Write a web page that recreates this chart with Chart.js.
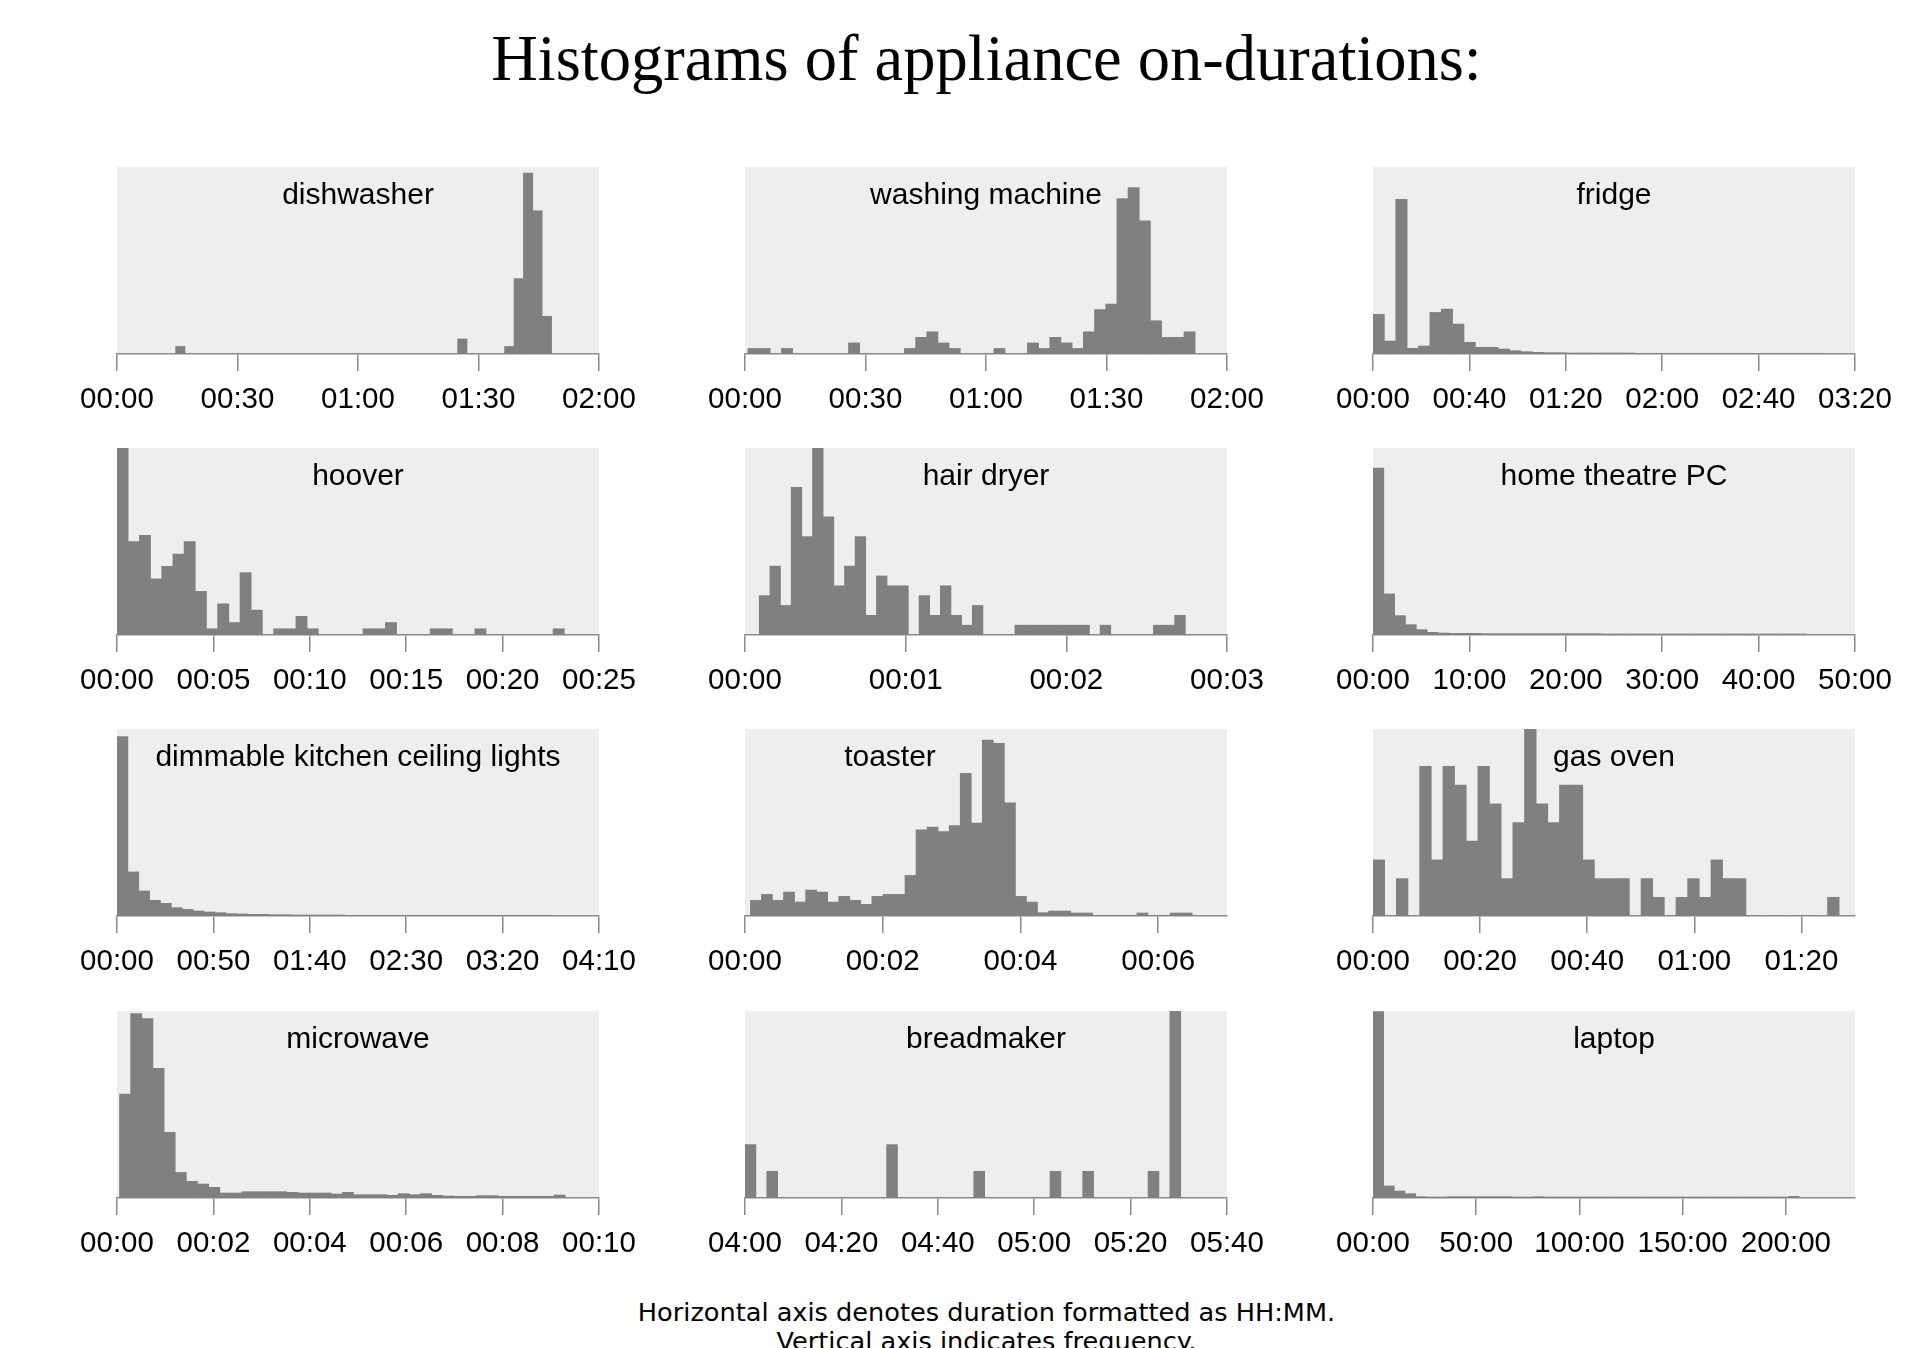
<!DOCTYPE html>
<html>
<head>
<meta charset="utf-8">
<script src="https://cdn.jsdelivr.net/npm/chart.js@4.4.1/dist/chart.umd.min.js"></script>
<style>
  html, body { margin:0; padding:0; background:#fff; }
  body { width:1909px; height:1348px; position:relative; overflow:hidden; }
  #title { position:absolute; left:0; top:27px; width:1973px; text-align:center;
           font-family:'Liberation Serif', serif; font-size:64.5px; line-height:1; color:#000; }
  .panel { position:absolute; }
  .ptitle { position:absolute; font-family:'Liberation Sans', Arial, sans-serif; font-size:30px;
            line-height:1; color:#000; white-space:nowrap; transform:translateX(-50%); }
  #footer { position:absolute; left:0; top:1298px; width:1973px; text-align:center;
            font-family:'DejaVu Sans', sans-serif; font-size:25.6px; line-height:29px; color:#000; }
</style>
</head>
<body>
<div id="title">Histograms of appliance on-durations:</div>
<div id="footer">Horizontal axis denotes duration formatted as HH:MM.<br>Vertical axis indicates frequency.</div>
<script>
/* ---------------- data: 40 bins per appliance, x in minutes ---------------- */
const panelNames = ["dishwasher","washing machine","fridge","hoover","hair dryer","home theatre PC",
                    "dimmable kitchen ceiling lights","toaster","gas oven","microwave","breadmaker","laptop"];

const dishwasherCounts = [1,0,0,0,0,0,0,0,0,0, 0,0,0,0,0,0,0,0,0,0, 0,0,0,0,0,0,0,0,0,0, 2,0,0,0,0,1,10,24,19,5];
const washingCounts    = [1,1,0,1,0,0,0,0,0,2, 0,0,0,0,1,3,4,2,1,0, 0,0,1,0,0,2,1,3,2,1, 4,8,9,28,30,24,6,3,3,4];
const fridgeCounts     = [119,39,465,17,24,125,135,90,35,20, 20,15,10,7,5,4,4,3,3,3, 3,3,3,2,2,2,2,2,2,2, 2,2,2,2,2,2,2,2,2,1];
const hooverCounts     = [30,15,16,9,11,13,15,7,1,5, 2,10,4,0,1,1,3,1,0,0, 0,0,1,1,2,0,0,0,1,1, 0,0,1,0,0,0,0,0,0,1];
const hairDryerCounts  = [4,7,3,15,10,19,12,5,7,10, 2,6,5,5,0,4,2,5,2,1, 3,0,0,0,1,1,1,1,1,1, 1,0,1,0,0,0,0,1,1,2];
const htpcCounts       = [500,123,58,31,16,8,6,5,5,5, 4,4,4,4,4,4,4,4,4,4, 4,3,3,3,3,3,3,3,3,3, 3,3,3,3,3,3,3,3,3,3];
const lightsCounts     = [537,132,75,47,38,25,20,15,12,10, 7,6,5,5,4,4,3,3,3,3, 3,2,2,2,2,2,2,2,2,2, 2,2,2,2,2,2,2,2,2,2];
const toasterCounts    = [47,65,47,72,42,78,72,42,59,47, 35,59,65,65,122,259,267,254,272,429, 279,529,519,340,59,42,10,15,15,9, 9,2,2,2,2,9,2,2,9,9];
const gasOvenCounts    = [3,0,2,0,8,3,8,7,4,8, 6,2,5,10,6,5,7,7,3,2, 2,2,0,2,1,0,1,2,1,3, 2,2,0,0,0,0,0,0,0,1];
const microwaveCounts  = [312,554,539,390,197,77,50,42,32,15, 15,19,19,19,19,17,15,15,15,12, 17,10,10,10,8,13,10,13,8,6, 5,5,7,7,5,5,5,5,5,9];
const breadmakerCounts = [2,0,1,0,0,0,0,0,0,0, 0,0,0,2,0,0,0,0,0,0, 0,1,0,0,0,0,0,0,1,0, 0,1,0,0,0,0,0,1,0,7];
const laptopCounts     = [558,36,21,13,4,3,3,4,4,4, 4,4,4,3,3,4,3,3,3,3, 3,3,3,3,3,3,3,3,3,3, 3,3,3,3,3,3,3,3,3,5];

const allCounts = [dishwasherCounts, washingCounts, fridgeCounts, hooverCounts, hairDryerCounts, htpcCounts,
                   lightsCounts, toasterCounts, gasOvenCounts, microwaveCounts, breadmakerCounts, laptopCounts];

// first bin edge and bin width (minutes)
const binStarts = [14.6, 0.71, 0, 0, 0.0886, 0, 0, 0.078, 0, 0.052, 240, 0];
const binWidths = [2.34, 2.784, 4.72, 0.58, 0.0663, 67.4, 5.64, 0.1604, 2.176, 0.2312, 2.26, 309.6];

// axis range / tick step (minutes)
const axisMins  = [0, 0, 0, 0, 0, 0, 0, 0, 0, 0, 240, 0];
const axisMaxs  = [120, 120, 200, 25, 3, 3000, 250, 7, 90, 10, 340, 14010];
const tickSteps = [30, 30, 40, 5, 1, 600, 50, 2, 20, 2, 20, 3000];
const yMaxs     = [24.8, 33.7, 562, 30, 19, 560, 560, 562, 10, 562, 7, 560];
const titleShift = [0, 0, 0, 0, 0, 0, 0, -96, 0, 0, 0, 0];

/* ---------------- layout ---------------- */
const COL_X = [117, 745, 1373];
const ROW_Y = [167, 448, 729, 1011];
const PW = 482, PH = 187, PAD = 60, AXIS_H = 66;

const BAR = "#808080", PANEL_BG = "#EEEEEE", AXIS = "#8a8a8a";

function hhmm(v){
  const h = Math.floor(v / 60 + 1e-9);
  const m = Math.round(v - h * 60);
  return String(h).padStart(2,'0') + ':' + String(m).padStart(2,'0');
}

const panelBg = {
  id:'panelBg',
  beforeDraw(chart){
    const {ctx, chartArea:a} = chart;
    ctx.save();
    ctx.fillStyle = PANEL_BG;
    ctx.fillRect(a.left, a.top, a.right - a.left, a.bottom - a.top);
    ctx.restore();
  }
};

panelNames.forEach((name, i) => {
  const px = COL_X[i % 3], py = ROW_Y[Math.floor(i / 3)];

  const wrap = document.createElement('div');
  wrap.className = 'panel';
  wrap.style.left = (px - PAD) + 'px';
  wrap.style.top = py + 'px';
  const cv = document.createElement('canvas');
  cv.width = PW + 2 * PAD;
  cv.height = PH + AXIS_H;
  wrap.appendChild(cv);
  document.body.appendChild(wrap);

  const t = document.createElement('div');
  t.className = 'ptitle';
  t.textContent = name;
  t.style.left = (px + PW / 2 + titleShift[i]) + 'px';
  t.style.top = (py + 12) + 'px';
  document.body.appendChild(t);

  const counts = allCounts[i];
  const pts = counts.map((c, k) => ({ x: binStarts[i] + (k + 0.5) * binWidths[i], y: c }));

  new Chart(cv, {
    type:'bar',
    data:{ datasets:[{ data: pts, backgroundColor: BAR, borderWidth:0,
                       barPercentage:1, categoryPercentage:1 }] },
    options:{
      responsive:false,
      animation:false,
      events:[],
      layout:{ padding:{ left:PAD, right:PAD, top:0, bottom:0 } },
      plugins:{ legend:{ display:false }, tooltip:{ enabled:false } },
      scales:{
        x:{
          type:'linear',
          offset:false,
          min: axisMins[i],
          max: axisMaxs[i],
          border:{ display:true, color:AXIS, width:1.5 },
          grid:{ drawOnChartArea:false, drawTicks:true, tickLength:17, color:AXIS, lineWidth:1.5, offset:false },
          afterBuildTicks: s => {
            const ticks = [];
            for (let v = axisMins[i]; v <= axisMaxs[i] + 1e-9; v += tickSteps[i]) ticks.push({ value: v });
            s.ticks = ticks;
          },
          ticks:{
            autoSkip:false,
            maxRotation:0,
            padding:11,
            color:'#000',
            font:{ family:"'Liberation Sans', Arial, sans-serif", size:29.5 },
            callback: v => hhmm(v)
          },
          afterFit: s => { s.height = AXIS_H; }
        },
        y:{ display:false, min:0, max:yMaxs[i] }
      }
    },
    plugins:[panelBg]
  });
});
</script>
</body>
</html>
